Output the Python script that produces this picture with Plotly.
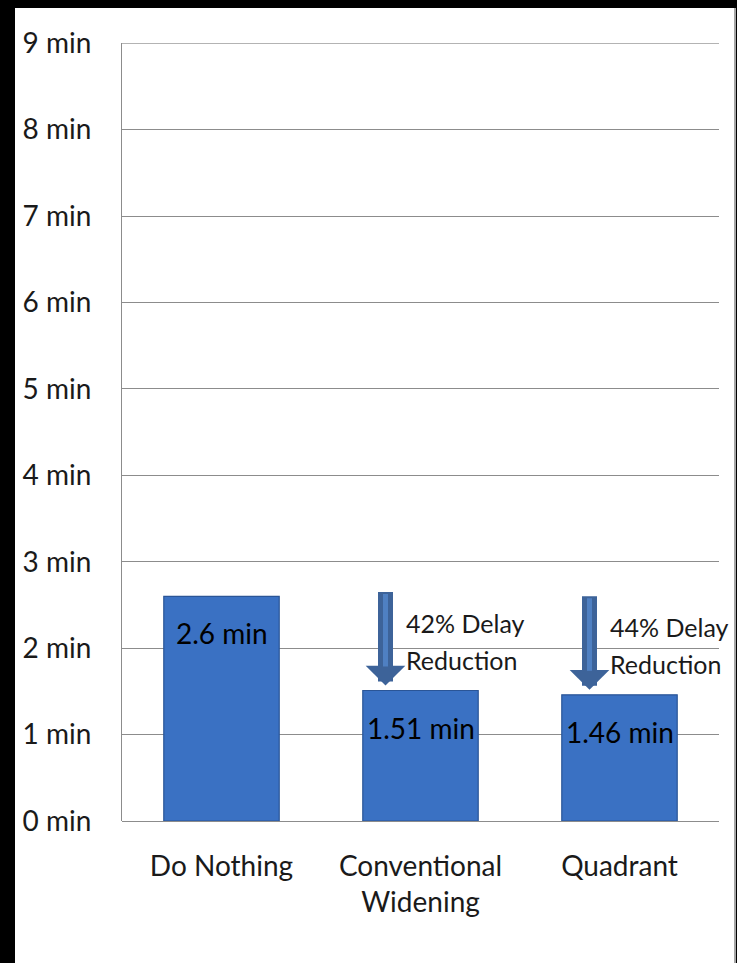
import plotly.graph_objects as go

# Average delay per intersection alternative
categories = ["Do Nothing", "Conventional<br>Widening", "Quadrant"]
delay_min = [2.6, 1.51, 1.46]
y_ticks = [0, 1, 2, 3, 4, 5, 6, 7, 8, 9]
y_tick_labels = [f"{t} min" for t in y_ticks]

W, H = 737, 963
L, R, T, B = 122, 18, 43, 142
FONT = "Lato"
TXT = "#1a1a1a"
GRID = "#8c8c8c"

fig = go.Figure()
fig.add_trace(go.Bar(
    x=categories, y=delay_min, width=0.58,
    marker=dict(color="#3a71c3", line=dict(color="#2a5597", width=1.2)),
    hoverinfo="skip",
))

ann = []
# value labels inside the top of each bar
for cat, v in zip(categories, delay_min):
    ann.append(dict(x=cat, y=v, xref="x", yref="y", text=f"{v} min",
                    showarrow=False, yshift=-37, yanchor="middle",
                    font=dict(family=FONT, size=28, color="#000000")))

# reduction arrows and notes relative to the baseline
base = delay_min[0]
arrow_xshift = [-35, -30]
for i, (cat, v) in enumerate(zip(categories[1:], delay_min[1:])):
    pct = round((base - v) / base * 100)
    xs = arrow_xshift[i]
    ann.append(dict(x=cat, y=v, xref="x", yref="y", text="", showarrow=True,
                    arrowhead=1, arrowsize=0.44, arrowwidth=15, arrowcolor="#3d6399",
                    ax=0, ay=-100, standoff=5, xshift=xs, font=dict(size=1)))
    ann.append(dict(x=cat, y=v, xref="x", yref="y", text="", showarrow=True,
                    arrowhead=0, arrowwidth=5, arrowcolor="#4f80c2",
                    ax=0, ay=-98, standoff=24, xshift=xs, font=dict(size=1)))
    ann.append(dict(x=cat, y=v, xref="x", yref="y", text=f"{pct}% Delay",
                    showarrow=False, xanchor="left", yanchor="middle",
                    xshift=xs + 18, yshift=68,
                    font=dict(family=FONT, size=25, color=TXT)))
    ann.append(dict(x=cat, y=v, xref="x", yref="y", text="Reduction",
                    showarrow=False, xanchor="left", yanchor="middle",
                    xshift=xs + 18, yshift=31,
                    font=dict(family=FONT, size=25, color=TXT)))

pw, ph = W - L - R, H - T - B
def px_x(p):
    return (p - L) / pw
def px_y(p):
    return (H - B - p) / ph

shapes = [
    # white card over the dark page
    dict(type="rect", xref="paper", yref="paper", layer="below",
         x0=px_x(15), x1=px_x(735), y0=px_y(H + 5), y1=px_y(8),
         fillcolor="white", line=dict(width=0)),
    dict(type="line", xref="paper", yref="paper", layer="below",
         x0=px_x(735), x1=px_x(735), y0=px_y(H + 5), y1=px_y(8),
         line=dict(color="#a6a6a6", width=2)),
    # gridline at the top of the value range
    dict(type="line", xref="paper", yref="y", layer="below",
         x0=0, x1=1, y0=y_ticks[-1], y1=y_ticks[-1],
         line=dict(color=GRID, width=1)),
]

fig.update_layout(
    width=W, height=H,
    margin=dict(l=L, r=R, t=T, b=B, pad=0, autoexpand=False),
    paper_bgcolor="#000000", plot_bgcolor="rgba(0,0,0,0)",
    showlegend=False, bargap=0.42,
    annotations=ann, shapes=shapes,
    font=dict(family=FONT, size=28, color=TXT),
)
fig.update_yaxes(
    range=[0, 9.002], tickvals=y_ticks, ticktext=y_tick_labels,
    showgrid=True, gridcolor=GRID, gridwidth=1,
    zeroline=True, zerolinecolor=GRID, zerolinewidth=1,
    showline=True, linecolor=GRID, linewidth=1,
    ticks="", ticklabelstandoff=24, automargin=False,
    tickfont=dict(family=FONT, size=28, color=TXT),
)
fig.update_xaxes(
    range=[-0.5, 2.5], showgrid=False, showline=False, ticks="",
    ticklabelstandoff=26, automargin=False,
    tickfont=dict(family=FONT, size=28, color=TXT),
)

fig.write_html("out.html")
